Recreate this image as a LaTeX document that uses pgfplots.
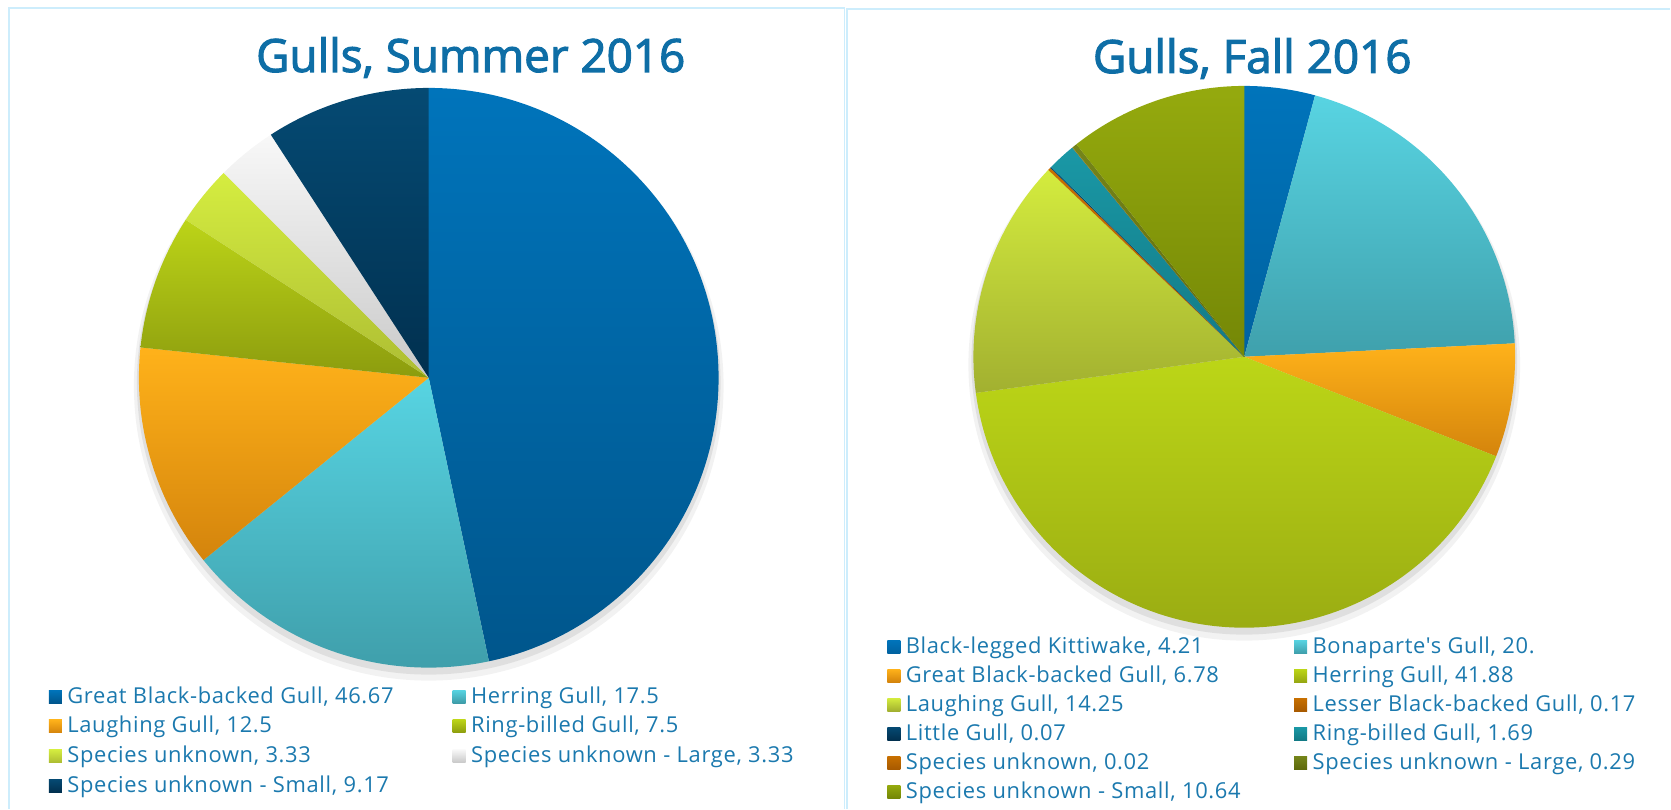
\documentclass[border=0pt]{standalone}
\usepackage{fontspec}
\usepackage{pgfplots}
\usepackage{pgfplotstable}
\pgfplotsset{compat=1.18}
\newfontfamily\titlefontfam[FakeBold=2.4]{Open Sans}
\newfontfamily\legfontfam[LetterSpace=3]{Open Sans}
\newcommand\titlefont{\titlefontfam\fontsize{23}{28}\selectfont}
\newcommand\legendfont{\legfontfam\fontsize{11}{13}\selectfont}

\definecolor{titleblue}{HTML}{0E6EA6}
\definecolor{legblue}{HTML}{1B79AE}
\definecolor{frame}{HTML}{CDEDFC}
% summer colours
\definecolor{sAt}{HTML}{0074BB}\definecolor{sAb}{HTML}{00568C}
\definecolor{sBt}{HTML}{57D4E2}\definecolor{sBb}{HTML}{3E9CA8}
\definecolor{sCt}{HTML}{FFB21A}\definecolor{sCb}{HTML}{D4840C}
\definecolor{sDt}{HTML}{BCD418}\definecolor{sDb}{HTML}{8C9C0E}
\definecolor{sEt}{HTML}{D5ED40}\definecolor{sEb}{HTML}{ADBD33}
\definecolor{sFt}{HTML}{F8F8F8}\definecolor{sFb}{HTML}{C9C9C9}
\definecolor{sGt}{HTML}{054A73}\definecolor{sGb}{HTML}{01304F}
% fall colours
\definecolor{fAt}{HTML}{0074BB}\definecolor{fAb}{HTML}{0062A0}
\definecolor{fBt}{HTML}{58D4E2}\definecolor{fBb}{HTML}{3FA0AC}
\definecolor{fCt}{HTML}{FFB21A}\definecolor{fCb}{HTML}{D4840C}
\definecolor{fDt}{HTML}{BCD617}\definecolor{fDb}{HTML}{96A712}
\definecolor{fEt}{HTML}{D4EC3E}\definecolor{fEb}{HTML}{A2B030}
\definecolor{fFt}{HTML}{C87000}\definecolor{fFb}{HTML}{A85A00}
\definecolor{fGt}{HTML}{054A73}\definecolor{fGb}{HTML}{01304F}
\definecolor{fHt}{HTML}{1A98A6}\definecolor{fHb}{HTML}{127A85}
\definecolor{fIt}{HTML}{C87000}\definecolor{fIb}{HTML}{A85A00}
\definecolor{fJt}{HTML}{75851A}\definecolor{fJb}{HTML}{5E6A0C}
\definecolor{fKt}{HTML}{95AA0E}\definecolor{fKb}{HTML}{748706}

\pgfplotstableread[col sep=semicolon]{
name;v;lab;ct;cb
Great Black-backed Gull;46.67;46.67;sAt;sAb
Herring Gull;17.5;17.5;sBt;sBb
Laughing Gull;12.5;12.5;sCt;sCb
Ring-billed Gull;7.5;7.5;sDt;sDb
Species unknown;3.33;3.33;sEt;sEb
Species unknown - Large;3.33;3.33;sFt;sFb
Species unknown - Small;9.17;9.17;sGt;sGb
}\summer

\pgfplotstableread[col sep=semicolon]{
name;v;lab;ct;cb
Black-legged Kittiwake;4.21;4.21;fAt;fAb
Bonaparte's Gull;20;20.;fBt;fBb
Great Black-backed Gull;6.78;6.78;fCt;fCb
Herring Gull;41.88;41.88;fDt;fDb
Laughing Gull;14.25;14.25;fEt;fEb
Lesser Black-backed Gull;0.17;0.17;fFt;fFb
Little Gull;0.07;0.07;fGt;fGb
Ring-billed Gull;1.69;1.69;fHt;fHb
Species unknown;0.02;0.02;fIt;fIb
Species unknown - Large;0.29;0.29;fJt;fJb
Species unknown - Small;10.64;10.64;fKt;fKb
}\fall

% #1 table, #2 last row index, #3 cx, #4 cy (px), #5 radius (bp)
\newcommand\drawpie[5]{%
  \xdef\astart{90}%
  \pgfplotsforeachungrouped \i in {0,...,#2}{%
    \pgfplotstablegetelem{\i}{v}\of#1\let\vv\pgfplotsretval
    \pgfplotstablegetelem{\i}{ct}\of#1\let\cct\pgfplotsretval
    \pgfplotstablegetelem{\i}{cb}\of#1\let\ccb\pgfplotsretval
    \pgfmathsetmacro\aend{\astart-3.6*\vv}%
    \edef\cmd{\noexpand\path[top color=\cct, bottom color=\ccb]
      (axis cs:#3,#4) -- ++(\astart:#5) arc[start angle=\astart, end angle=\aend, radius=#5] -- cycle;}%
    \cmd
    \xdef\astart{\aend}%
  }%
}
% #1 table, #2 last index, #3 marker x col1, #4 marker x col2, #5 first row centre (px from top), #6 row step, #7 marker size
\newcommand\drawlegend[7]{%
  \pgfplotsforeachungrouped \i in {0,...,#2}{%
    \pgfplotstablegetelem{\i}{name}\of#1\let\nm\pgfplotsretval
    \pgfplotstablegetelem{\i}{lab}\of#1\let\lb\pgfplotsretval
    \pgfplotstablegetelem{\i}{ct}\of#1\let\cct\pgfplotsretval
    \pgfplotstablegetelem{\i}{cb}\of#1\let\ccb\pgfplotsretval
    \pgfmathtruncatemacro\col{mod(\i,2)}%
    \pgfmathtruncatemacro\row{floor(\i/2)}%
    \pgfmathsetmacro\mx{\col==0 ? #3 : #4}%
    \pgfmathsetmacro\cy{809-(#5+\row*#6)}%
    \pgfmathsetmacro\ytop{\cy+#7/2}%
    \pgfmathsetmacro\ybot{\cy-#7/2}%
    \pgfmathsetmacro\mxr{\mx+#7}%
    \pgfmathsetmacro\tx{\mxr+5}%
    \pgfmathsetmacro\ty{\cy-6.5}%
    \edef\cmd{\noexpand\path[top color=\cct, bottom color=\ccb] (axis cs:\mx,\ybot) rectangle (axis cs:\mxr,\ytop);
      \noexpand\node[anchor=base west, inner sep=0pt, text=legblue, font=\noexpand\legendfont] at (axis cs:\tx,\ty) {\nm, \lb};}%
    \cmd
  }%
}

\begin{document}
\begin{tikzpicture}
\begin{axis}[x=0.5bp, y=0.5bp, xmin=0, xmax=1671, ymin=0, ymax=809,
  hide axis, clip=false]
  \path (axis cs:0,0) rectangle (axis cs:1671,809);
  % panel frames
  \draw[frame, line width=1bp] (axis cs:9,0) -- (axis cs:9,801) -- (axis cs:845,801) -- (axis cs:845,0);
  \draw[frame, line width=1bp] (axis cs:848,0) -- (axis cs:848,800) -- (axis cs:1671,800);
  % titles
  \node[anchor=base, text=titleblue, font=\titlefont] at (axis cs:471,737) {Gulls, Summer 2016};
  \node[anchor=base, text=titleblue, font=\titlefont] at (axis cs:1253,736) {Gulls, Fall 2016};
  % shadows
  \fill[black, opacity=0.05] (axis cs:429,423) circle[radius=147.5bp];
  \fill[black, opacity=0.08] (axis cs:429,426) circle[radius=146bp];
  \fill[black, opacity=0.05] (axis cs:1245,444) circle[radius=138bp];
  \fill[black, opacity=0.08] (axis cs:1245,447) circle[radius=136.5bp];
  % pies
  \drawpie{\summer}{6}{429}{431}{145bp}
  \drawpie{\fall}{10}{1245}{452}{135.5bp}
  % legends
  \drawlegend{\summer}{6}{49}{453}{697}{29.7}{13}
  \drawlegend{\fall}{10}{888}{1295}{647}{29}{13}
\end{axis}
\end{tikzpicture}
\end{document}
